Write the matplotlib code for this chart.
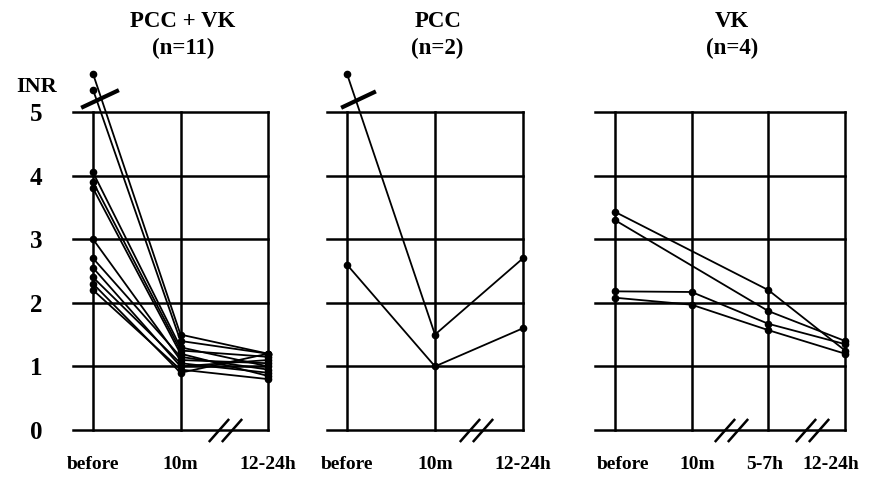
import numpy as np
import matplotlib
matplotlib.use('Agg')
import matplotlib.pyplot as plt
import matplotlib.transforms as mtransforms
from matplotlib.path import Path

plt.rcParams['font.family'] = ['Liberation Serif', 'DejaVu Serif']
plt.rcParams['font.weight'] = 'bold'

# ---- data (INR values) ----
inr_ticks = [0, 1, 2, 3, 4, 5]

pcc_vk_times = ['before', '10m', '12-24h']
pcc_vk_before = [5.6, 5.35, 4.05, 3.9, 3.8, 3.0, 2.7, 2.55, 2.4, 2.3, 2.2]
pcc_vk_10m = [1.5, 1.4, 1.3, 1.25, 1.2, 1.1, 1.15, 1.0, 1.05, 0.9, 0.95]
pcc_vk_24h = [1.2, 1.2, 1.0, 1.15, 0.85, 1.05, 0.95, 1.1, 0.9, 1.2, 0.8]

pcc_times = ['before', '10m', '12-24h']
pcc_a = [5.6, 1.5, 2.7]
pcc_b = [2.6, 1.0, 1.6]

vk_times = ['before', '10m', '5-7h', '12-24h']
vk_a = [3.43, np.nan, 2.2, 1.25]
vk_b = [3.3, np.nan, 1.87, 1.4]
vk_c = [2.18, 2.17, 1.67, 1.35]
vk_d = [2.08, 1.97, 1.57, 1.2]

# break marks (in category units along x)
pcc_vk_breaks = [1.51]
pcc_breaks = [1.47]
vk_breaks = [1.51, 2.57]

fig = plt.figure(figsize=(8.7, 4.86), dpi=100)

bottom, height = 56/486, 318/486
ax0 = fig.add_axes([73/870, bottom, 195/870, height])
ax1 = fig.add_axes([327/870, bottom, 196/870, height])
ax2 = fig.add_axes([595/870, bottom, 250/870, height])

slash = Path([(-0.55, -0.38), (0.12, 0.38), (-0.12, -0.38), (0.55, 0.38)],
             [Path.MOVETO, Path.LINETO, Path.MOVETO, Path.LINETO])


def series(ax, vals):
    vals = np.asarray(vals, dtype=float)
    x = np.arange(len(vals))
    ok = np.isfinite(vals)
    ax.plot(x[ok], vals[ok], color='black', lw=1.3, marker='o', ms=4.5,
            clip_on=False, zorder=3)


def setup(ax, times, left, breaks, title, sub):
    n = len(times)
    ax.set_xlim(left, n - 1)
    ax.set_ylim(0, 5)
    ax.set_xticks(range(n))
    ax.set_xticklabels(times, fontsize=14, fontweight='bold')
    ax.set_yticks(inr_ticks)
    ax.grid(True, color='black', lw=1.8)
    for gl in ax.get_xgridlines() + ax.get_ygridlines():
        gl.set_clip_on(False)
    for s in ax.spines.values():
        s.set_visible(False)
    ax.tick_params(axis='x', length=0, pad=19)
    ax.tick_params(axis='y', length=0, pad=22, labelsize=18)
    ax.set_axisbelow(True)
    ax.plot(breaks, [0]*len(breaks), ls='none', marker=slash, ms=24,
            mew=1.8, mec='black', clip_on=False, zorder=4)
    xc = (n - 1) / 2 + 0.03
    tr = ax.get_xaxis_transform()
    ax.text(xc, 1.285, title, transform=tr, ha='center', va='center',
            fontsize=16.5, fontweight='bold')
    ax.text(xc, 1.2, sub, transform=tr, ha='center', va='center',
            fontsize=16.5, fontweight='bold')


setup(ax0, pcc_vk_times, -0.229, pcc_vk_breaks, 'PCC + VK', '(n=11)')
setup(ax1, pcc_times, -0.227, pcc_breaks, 'PCC', '(n=2)')
setup(ax2, vk_times, -0.26, vk_breaks, 'VK', '(n=4)')
ax1.set_yticklabels([])
ax2.set_yticklabels([])
for lab in ax0.get_yticklabels():
    lab.set_fontweight('bold')

# nudge the crowded VK labels like in the original
for lab, dx in zip(ax2.get_xticklabels(), [8, 6, -4, -14]):
    lab.set_transform(lab.get_transform() +
                      mtransforms.ScaledTranslation(dx/100, 0, fig.dpi_scale_trans))

for row in zip(pcc_vk_before, pcc_vk_10m, pcc_vk_24h):
    series(ax0, row)
for row in [pcc_a, pcc_b]:
    series(ax1, row)
for row in [vk_a, vk_b, vk_c, vk_d]:
    series(ax2, row)

# axis-break slashes on the top of the "before" lines
ax0.plot([-0.114, 0.274], [5.08, 5.33], color='black', lw=3, clip_on=False)
ax1.plot([-0.045, 0.307], [5.08, 5.31], color='black', lw=3, clip_on=False)

fig.text(37/870, 1 - 87/486, 'INR', ha='center', va='center',
         fontsize=16, fontweight='bold')

fig.savefig('out.png', dpi=100, facecolor='white')
